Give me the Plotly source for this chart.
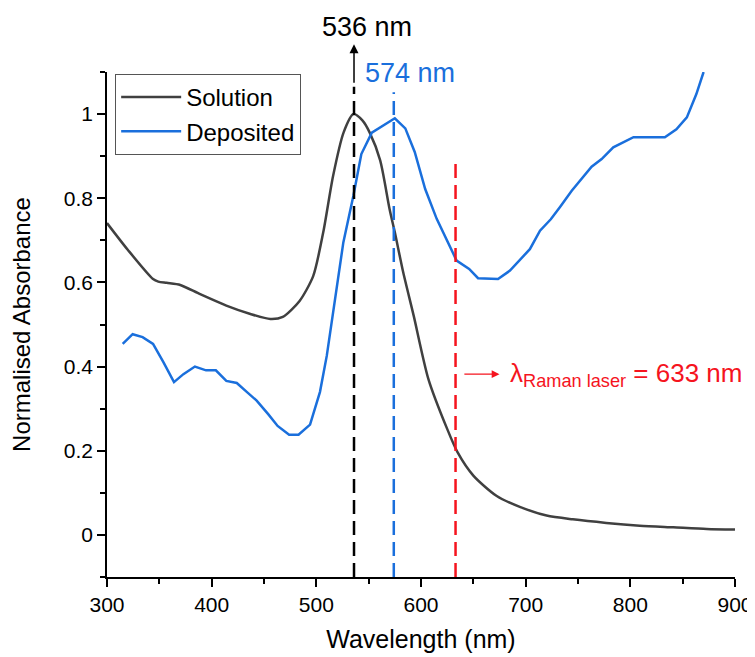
import plotly.graph_objects as go

# Solution spectrum (normalised)
sol_wl = [300, 320, 344, 349, 357, 370, 389, 414, 437, 456, 468, 484, 497, 506.6, 516, 526, 535.5,
          544, 551, 561, 570, 575, 583, 593, 607, 625, 635, 650, 672, 695, 720, 745, 777,
          809, 841, 873, 900]
sol_abs = [0.741, 0.677, 0.608, 0.602, 0.599, 0.594, 0.572, 0.545, 0.525, 0.513, 0.518, 0.556,
           0.615, 0.719, 0.853, 0.956, 1.0, 0.985, 0.956, 0.89, 0.774, 0.719, 0.624, 0.521, 0.371,
           0.252, 0.196, 0.141, 0.093, 0.066, 0.046, 0.037, 0.0285, 0.022, 0.018, 0.014, 0.0126]

# Deposited film spectrum (normalised)
dep_wl = [315, 324.5, 334, 344, 354, 364, 373, 384, 394.6, 404, 414, 424, 433.5, 443, 454, 463,
          474, 483, 494, 503.5, 510, 525.8, 535.4, 543, 553, 575, 585, 594, 604, 615, 634, 646,
          654.5, 673.6, 685, 704, 713.7, 724, 733, 744, 763, 772.6, 783.7, 803, 833, 844, 854,
          863, 870]
dep_abs = [0.454, 0.477, 0.470, 0.454, 0.41, 0.363, 0.382, 0.40, 0.391, 0.391, 0.366, 0.361,
           0.340, 0.319, 0.287, 0.259, 0.238, 0.238, 0.262, 0.340, 0.426, 0.695, 0.806, 0.905,
           0.956, 0.990, 0.966, 0.91, 0.822, 0.751, 0.652, 0.632, 0.610, 0.608, 0.628, 0.679,
           0.723, 0.75, 0.78, 0.818, 0.875, 0.893, 0.921, 0.945, 0.945, 0.964, 0.992, 1.047, 1.10]

# Marker wavelengths
peak_solution = 536
peak_deposited = 574
raman_laser = 633

x_ticks = [300, 400, 500, 600, 700, 800, 900]
y_ticks = [0, 0.2, 0.4, 0.6, 0.8, 1]
y_ticktext = ["0", "0.2", "0.4", "0.6", "0.8", "1"]

SOL_C = "#404040"
DEP_C = "#1a6fdc"
RED_C = "#f5141e"
FONT = "Liberation Sans, Arial, sans-serif"

fig = go.Figure()
fig.add_trace(go.Scatter(x=sol_wl, y=sol_abs, mode="lines", name="Solution",
                         line=dict(color=SOL_C, width=2.5, shape="spline", smoothing=0.7)))
fig.add_trace(go.Scatter(x=dep_wl, y=dep_abs, mode="lines", name="Deposited",
                         line=dict(color=DEP_C, width=2.5)))

# Vertical dashed markers
fig.add_trace(go.Scatter(x=[peak_solution, peak_solution], y=[-0.1, 1.065], mode="lines",
                         showlegend=False, line=dict(color="black", width=2.5, dash="14px,7px")))
fig.add_trace(go.Scatter(x=[peak_deposited, peak_deposited], y=[-0.1, 1.052], mode="lines",
                         showlegend=False, line=dict(color=DEP_C, width=2.5, dash="14px,7px")))
fig.add_trace(go.Scatter(x=[raman_laser, raman_laser], y=[-0.1, 0.89], mode="lines",
                         showlegend=False, line=dict(color=RED_C, width=2.5, dash="14px,7px")))

# Arrow above the 536 nm line
fig.add_annotation(x=peak_solution, y=1.166, ax=peak_solution, ay=1.071, xref="x", yref="y",
                   axref="x", ayref="y", showarrow=True, arrowhead=2, arrowsize=1.2,
                   arrowwidth=1.5, arrowcolor="black", text="")
fig.add_annotation(x=548, y=1.089, xref="x", yref="paper", text=f"{peak_solution} nm",
                   showarrow=False, font=dict(size=27, color="black", family=FONT),
                   xanchor="center", yanchor="middle")
fig.add_annotation(x=589.5, y=1.098, xref="x", yref="y", text=f"{peak_deposited} nm",
                   showarrow=False, font=dict(size=27, color=DEP_C, family=FONT),
                   xanchor="center", yanchor="middle")

# Raman laser arrow + label
fig.add_annotation(x=675, y=0.382, ax=640, ay=0.382, xref="x", yref="y", axref="x", ayref="y",
                   showarrow=True, arrowhead=2, arrowsize=1.2, arrowwidth=1.3,
                   arrowcolor=RED_C, text="")
fig.add_annotation(x=683, y=0.382, xref="x", yref="y",
                   text=f"λ<sub>Raman laser</sub> = {raman_laser} nm",
                   showarrow=False, font=dict(size=26, color=RED_C, family=FONT),
                   xanchor="left", yanchor="middle")

# The page body has an 8px margin, so the figure is offset by 8px; margins compensate.
fig.update_layout(
    width=755, height=657,
    margin=dict(l=99, r=28, t=64, b=88),
    paper_bgcolor="white", plot_bgcolor="white",
    font=dict(family=FONT, color="black"),
    showlegend=True,
    legend=dict(x=0.013, y=0.996, xanchor="left", yanchor="top",
                bgcolor="white", bordercolor="#555555", borderwidth=1,
                font=dict(size=24, family=FONT, color="black"),
                itemwidth=60, tracegroupgap=0),
    xaxis=dict(range=[300, 900], tickvals=x_ticks, ticks="outside", ticklen=8, tickwidth=1.5,
               tickcolor="black", showline=True, linecolor="black", linewidth=1.5,
               showgrid=False, zeroline=False, tickfont=dict(size=21, family=FONT),
               automargin=False,
               title=dict(text="Wavelength (nm)", font=dict(size=25, family=FONT), standoff=16),
               minor=dict(dtick=50, tick0=300, ticks="outside", ticklen=5, tickwidth=1.5,
                          tickcolor="black", showgrid=False)),
    yaxis=dict(range=[-0.1, 1.1], tickvals=y_ticks, ticktext=y_ticktext,
               ticks="outside", ticklen=8, tickwidth=1.5,
               tickcolor="black", showline=True, linecolor="black", linewidth=1.5,
               showgrid=False, zeroline=False, tickfont=dict(size=21, family=FONT),
               automargin=False,
               title=dict(text="Normalised Absorbance", font=dict(size=24, family=FONT), standoff=34),
               minor=dict(dtick=0.1, tick0=-0.1, ticks="outside", ticklen=5, tickwidth=1.5,
                          tickcolor="black", showgrid=False)),
)

fig.write_html("out.html")
